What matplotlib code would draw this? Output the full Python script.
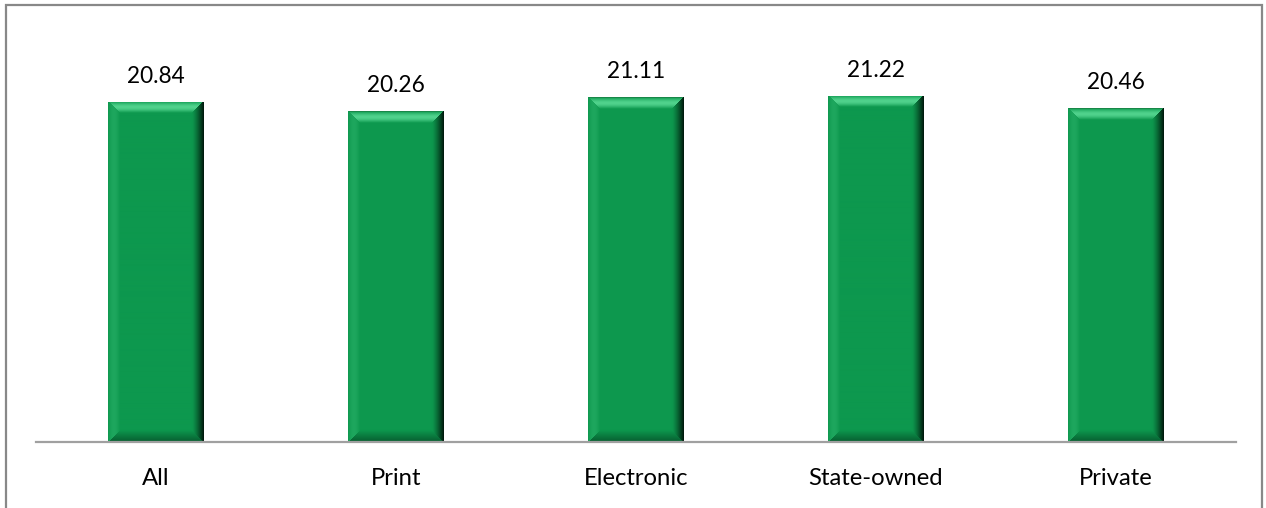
import numpy as np
import matplotlib
matplotlib.use("Agg")
import matplotlib.pyplot as plt
from matplotlib.patches import Rectangle

categories = ["All", "Print", "Electronic", "State-owned", "Private"]
values = [20.84, 20.26, 21.11, 21.22, 20.46]
value_labels = ["20.84", "20.26", "21.11", "21.22", "20.46"]

plt.rcParams['font.family'] = ['Lato', 'DejaVu Sans']

W, H, DPI = 1266, 508, 100
fig = plt.figure(figsize=(W / DPI, H / DPI), dpi=DPI)
ax = fig.add_axes([36 / W, (H - 442) / H, 1200 / W, 408 / H])
x = np.arange(len(categories))
ax.set_xlim(-0.5, len(categories) - 0.5)
ax.set_ylim(0, 25)

base = np.array([13, 152, 78]) / 255.0
bars = ax.bar(x, values, width=0.4, color=base, zorder=2)

# bevel shading
fig.canvas.draw()
bevel_px = 12.0
for rect in bars:
    x0, y0 = rect.get_x(), rect.get_y()
    w, h = rect.get_width(), rect.get_height()
    p0 = ax.transData.transform((x0, y0))
    p1 = ax.transData.transform((x0 + w, y0 + h))
    wp = int(round(p1[0] - p0[0]))
    hp = int(round(p1[1] - p0[1]))
    cols = (np.arange(wp) + 0.5)
    rows = (np.arange(hp) + 0.5)
    X, Y = np.meshgrid(cols, rows)  # Y from top
    d = np.stack([X, wp - X, Y, hp - Y])
    which = np.argmin(d, axis=0)
    dmin = np.min(d, axis=0)
    t = np.clip(dmin / bevel_px, 0, 1)
    img = np.tile(base, (hp, wp, 1)).astype(float)
    light = np.array([80, 210, 140]) / 255.0
    dark = np.array([0, 20, 10]) / 255.0
    # top: light stripe
    m = (which == 2) & (t < 1)
    s = np.sin(np.pi * t[m]) ** 1.2
    img[m] = base * (1 - s[:, None]) + light * s[:, None]
    edge = m & (dmin < 1.5)
    img[edge] = np.array([25, 135, 72]) / 255.0
    # right: dark gradient
    m = (which == 1) & (t < 1)
    s = (1 - t[m]) ** 1.3
    img[m] = base * (1 - s[:, None]) + dark * s[:, None]
    # bottom: darker
    m = (which == 3) & (t < 1)
    s = 0.45 * (1 - t[m])
    img[m] = base * (1 - s[:, None]) + dark * s[:, None]
    # left: slight light
    m = (which == 0) & (t < 1)
    s = 0.25 * np.sin(np.pi * t[m])
    img[m] = base * (1 - s[:, None]) + light * s[:, None]
    im = ax.imshow(img, extent=(x0, x0 + w, y0, y0 + h), aspect='auto',
                   zorder=3, interpolation='bilinear')
    im.set_clip_path(rect)

for xi, v, lab in zip(x, values, value_labels):
    ax.annotate(lab, (xi, v), xytext=(0, 13.7), textcoords='offset points',
                ha='center', va='baseline', fontsize=16.3, color='black', zorder=4)

ax.set_xticks(x)
ax.set_xticklabels(categories, fontsize=17.2, color='black', va='baseline')
ax.tick_params(axis='x', length=0, pad=31)
ax.set_yticks([])
for sp in ['left', 'right', 'top']:
    ax.spines[sp].set_visible(False)
ax.spines['bottom'].set_color('#a0a0a0')
ax.spines['bottom'].set_linewidth(1.6)
ax.spines['bottom'].set_zorder(5)

fig.patches.append(Rectangle((5.5 / W, -0.05), (1262 - 5.5) / W, 1.05 - 4.5 / H,
                             transform=fig.transFigure, fill=False,
                             edgecolor='#888888', linewidth=1.6))

fig.savefig("out.png", dpi=DPI)
